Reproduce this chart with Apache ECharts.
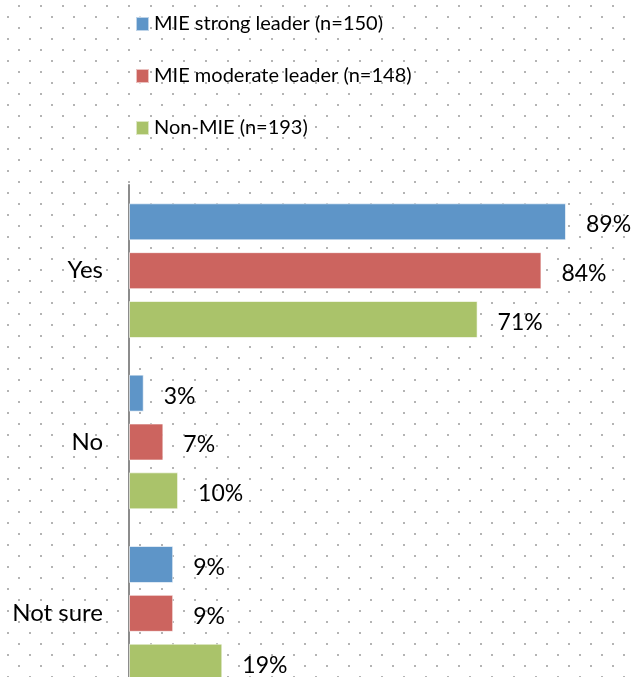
<!DOCTYPE html>
<html>
<head>
<meta charset="utf-8">
<script src="https://cdn.jsdelivr.net/npm/echarts@6/dist/echarts.min.js"></script>
<style>
  html, body { margin: 0; padding: 0; background: #fff; }
  #chart { width: 634px; height: 677px; }
</style>
</head>
<body>
<div id="chart"></div>
<script>
// Survey answers by leadership group (percent of respondents)
const categories = ['Yes', 'No', 'Not sure'];
const seriesNames = ['MIE strong leader (n=150)', 'MIE moderate leader (n=148)', 'Non-MIE (n=193)'];
const strongLeader = [89, 3, 9];
const moderateLeader = [84, 7, 9];
const nonMie = [71, 10, 19];
const seriesColors = ['#5E95C8', '#CC645F', '#AAC36A'];

// Staggered dotted backdrop tile
function dotTile() {
  const c = document.createElement('canvas');
  c.width = 22; c.height = 22;
  const g = c.getContext('2d');
  g.fillStyle = '#fff';
  g.fillRect(0, 0, 22, 22);
  g.fillStyle = '#b4b4b4';
  g.fillRect(7, 16, 2, 2);
  g.fillRect(18, 5, 2, 2);
  return c;
}

const FONT = 'Lato';
const chart = echarts.init(document.getElementById('chart'), null, { renderer: 'canvas' });

const values = [strongLeader, moderateLeader, nonMie];
const series = values.map((v, i) => ({
  name: seriesNames[i],
  type: 'bar',
  data: v,
  barWidth: 37,
  barGap: '32%',
  barCategoryGap: 0,
  itemStyle: { color: seriesColors[i], borderColor: 'rgba(255,255,255,0.6)', borderWidth: 1 },
  label: {
    show: true,
    position: 'right',
    distance: 20,
    formatter: p => p.value + '%',
    color: '#000',
    fontFamily: FONT,
    fontSize: 23,
    offset: [0, 3]
  }
}));

chart.setOption({
  backgroundColor: { image: dotTile(), repeat: 'repeat' },
  animation: false,
  legend: {
    orient: 'vertical',
    left: 130,
    top: 9,
    itemWidth: 13,
    itemHeight: 14,
    itemGap: 32,
    icon: 'rect',
    data: seriesNames,
    textStyle: { color: '#000', fontFamily: FONT, fontSize: 20 }
  },
  // the plot runs past the lower edge of the canvas
  grid: { left: 129, top: 185, width: 491, height: 514, outerBoundsMode: 'none', containLabel: false },
  xAxis: {
    type: 'value',
    min: 0,
    max: 100,
    show: false,
    splitLine: { show: false }
  },
  yAxis: {
    type: 'category',
    inverse: true,
    data: categories,
    axisLine: { show: true, lineStyle: { color: '#8c8c8c', width: 2 } },
    axisTick: { show: false },
    axisLabel: { margin: 26, color: '#000', fontFamily: FONT, fontSize: 24 }
  },
  series: series
});
</script>
</body>
</html>
